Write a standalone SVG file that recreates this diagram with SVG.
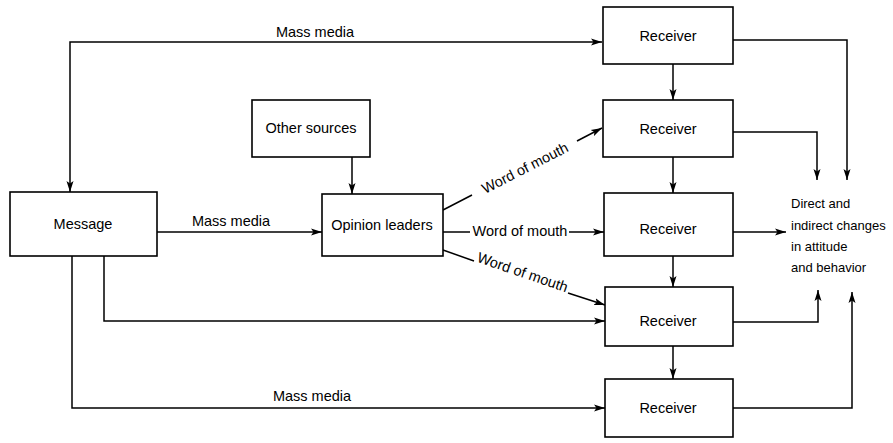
<svg xmlns="http://www.w3.org/2000/svg" width="893" height="443" viewBox="0 0 893 443">
<defs>
<marker id="ah" markerUnits="userSpaceOnUse" markerWidth="12" markerHeight="8" refX="11" refY="4" orient="auto-start-reverse">
<path d="M0,0.5 L11,4 L0,7.5 L2.5,4 z" fill="#000"/>
</marker>
<style>
.box{fill:#fff;stroke:#000;stroke-width:1.6}
.t{font-family:"Liberation Sans",Arial,sans-serif;font-size:14.5px;fill:#000}
.o{font-size:13px}
.c{text-anchor:middle}
.ln{fill:none;stroke:#000;stroke-width:1.5}
</style>
</defs>
<g id="connectors">
<path class="ln" d="M70,192 V42 H602" marker-start="url(#ah)" marker-end="url(#ah)"/>
<path class="ln" d="M157,232 H322" marker-end="url(#ah)"/>
<path class="ln" d="M104,256 V321 H605" marker-end="url(#ah)"/>
<path class="ln" d="M72,256 V408 H605" marker-end="url(#ah)"/>
<path class="ln" d="M352,157 V194" marker-end="url(#ah)"/>
<path class="ln" d="M443,210 L472,195"/>
<path class="ln" d="M577,141 L602,128" marker-end="url(#ah)"/>
<path class="ln" d="M443,232 H470"/>
<path class="ln" d="M569,232 H604" marker-end="url(#ah)"/>
<path class="ln" d="M443,250 L474,261"/>
<path class="ln" d="M568,293 L605,305" marker-end="url(#ah)"/>
<path class="ln" d="M673,64 V100" marker-end="url(#ah)"/>
<path class="ln" d="M673,157 V193" marker-end="url(#ah)"/>
<path class="ln" d="M673,256 V287" marker-end="url(#ah)"/>
<path class="ln" d="M673,346 V379" marker-end="url(#ah)"/>
<path class="ln" d="M733,40 H847 V180" marker-end="url(#ah)"/>
<path class="ln" d="M733,132 H817 V180" marker-end="url(#ah)"/>
<path class="ln" d="M733,232 H786" marker-end="url(#ah)"/>
<path class="ln" d="M733,322 H818 V290" marker-end="url(#ah)"/>
<path class="ln" d="M733,408 H852 V292" marker-end="url(#ah)"/>
<text class="t c" x="315" y="37">Mass media</text>
<text class="t c" x="231" y="226">Mass media</text>
<text class="t c" x="312" y="401">Mass media</text>
<text class="t c" transform="translate(525,168) rotate(-27)" y="5">Word of mouth</text>
<text class="t c" x="520" y="236">Word of mouth</text>
<text class="t c" transform="translate(521,277) rotate(19)" y="0">Word of mouth</text>
</g>
<g id="message"><rect class="box" x="10" y="192" width="147" height="64"/><text class="t c" x="83" y="229">Message</text></g>
<g id="other-sources"><rect class="box" x="252" y="100" width="118" height="57"/><text class="t c" x="311" y="133">Other sources</text></g>
<g id="opinion-leaders"><rect class="box" x="322" y="194" width="121" height="62"/><text class="t c" x="382" y="230">Opinion leaders</text></g>
<g id="receiver1"><rect class="box" x="603" y="7" width="130" height="57"/><text class="t c" x="668" y="41">Receiver</text></g>
<g id="receiver2"><rect class="box" x="603" y="100" width="130" height="57"/><text class="t c" x="668" y="134">Receiver</text></g>
<g id="receiver3"><rect class="box" x="604" y="193" width="129" height="63"/><text class="t c" x="668" y="234">Receiver</text></g>
<g id="receiver4"><rect class="box" x="605" y="287" width="128" height="59"/><text class="t c" x="668" y="326">Receiver</text></g>
<g id="receiver5"><rect class="box" x="605" y="379" width="128" height="58"/><text class="t c" x="668" y="413">Receiver</text></g>
<g id="outcome"><text class="t o" x="791" y="208">Direct and</text><text class="t o" x="791" y="230">indirect changes</text><text class="t o" x="791" y="251">in attitude</text><text class="t o" x="791" y="272">and behavior</text></g>
</svg>
